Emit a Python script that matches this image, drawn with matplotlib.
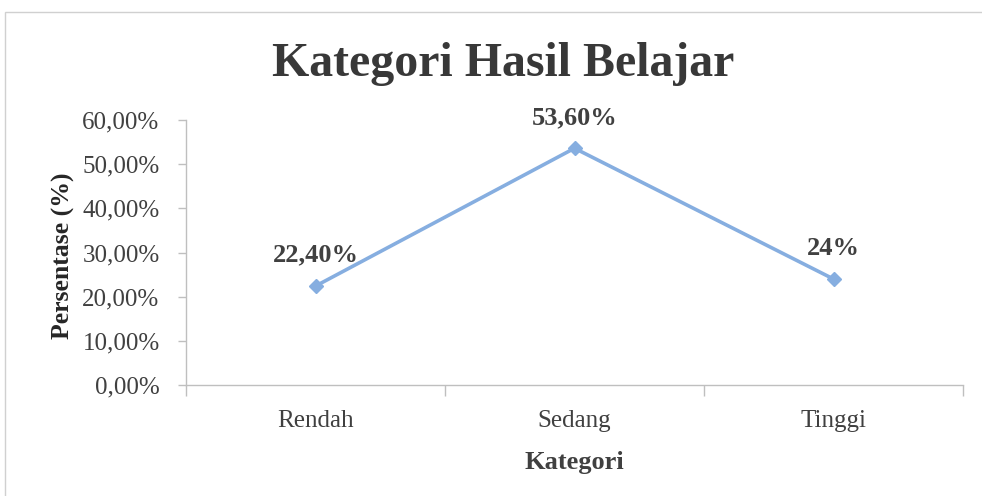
import matplotlib
matplotlib.use("Agg")
import matplotlib.pyplot as plt
from matplotlib.patches import Rectangle
from matplotlib.ticker import FixedLocator, NullFormatter

categories = ["Rendah", "Sedang", "Tinggi"]
values = [22.4, 53.6, 24.0]
value_labels = ["22,40%", "53,60%", "24%"]
yticks = [0, 10, 20, 30, 40, 50, 60]
ytick_labels = ["0,00%", "10,00%", "20,00%", "30,00%", "40,00%", "50,00%", "60,00%"]

plt.rcParams['font.family'] = ['Liberation Serif', 'DejaVu Serif']

W, H = 982, 496
fig = plt.figure(figsize=(W / 100, H / 100), dpi=100)
fig.patch.set_facecolor('white')

# chart border
fig.add_artist(Rectangle((5 / W, -0.1), 1.1, 1 - 12 / H + 0.1, transform=fig.transFigure,
                         fill=False, edgecolor='#D0D0D0', linewidth=1.0))

ax = fig.add_axes([186 / W, 1 - 385 / H, (963 - 186) / W, (385 - 120) / H])
ax.set_facecolor('none')

x = list(range(len(categories)))
line_color = '#86AEE0'
ax.plot(x, values, color=line_color, linewidth=2.6, marker='D', markersize=7,
        markerfacecolor=line_color, markeredgecolor=line_color, zorder=3)

for xi, v, lab in zip(x, values, value_labels):
    ax.annotate(lab, (xi, v), xytext=(0, 14), textcoords='offset points',
                ha='center', va='bottom', fontsize=19, fontweight='bold', color='#404040')

ax.set_xlim(-0.5, len(categories) - 0.5)
ax.set_ylim(0, 60)

ax.xaxis.set_major_locator(FixedLocator([i - 0.5 for i in range(len(categories) + 1)]))
ax.xaxis.set_major_formatter(NullFormatter())
ax.xaxis.set_minor_locator(FixedLocator(x))
ax.set_xticklabels(categories, minor=True)
ax.tick_params(axis='x', which='major', direction='out', length=8, width=1, color='#BFBFBF')
ax.tick_params(axis='x', which='minor', length=0, pad=18, labelsize=18, labelcolor='#404040')

ax.set_yticks(yticks)
ax.set_yticklabels(ytick_labels)
ax.tick_params(axis='y', direction='out', length=6, width=1, color='#BFBFBF',
               labelsize=18, labelcolor='#404040', pad=13)

for s in ['top', 'right']:
    ax.spines[s].set_visible(False)
for s in ['left', 'bottom']:
    ax.spines[s].set_color('#BFBFBF')
    ax.spines[s].set_linewidth(1)

ax.set_xlabel('Kategori', fontsize=19, fontweight='bold', color='#404040', labelpad=14)
fig.text(63 / W, 1 - 256 / H, 'Persentase (%)', rotation=90, ha='center', va='center',
         fontsize=18.5, fontweight='bold', color='#262626')

fig.text(503 / W, 1 - 64 / H, 'Kategori Hasil Belajar', ha='center', va='center',
         fontsize=34.5, fontweight='bold', color='#383838')

fig.savefig('out.png', dpi=100)
